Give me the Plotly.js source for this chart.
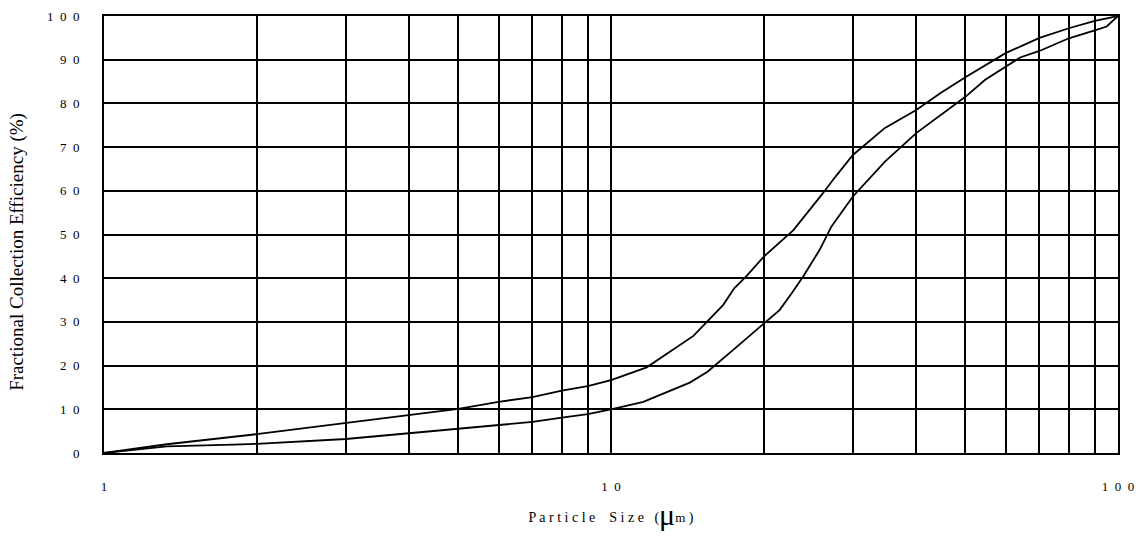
<!DOCTYPE html>
<html>
<head>
<meta charset="utf-8">
<script src="https://cdn.plot.ly/plotly-3.0.1.min.js"></script>
<style>html,body{margin:0;padding:0;background:#fff;}#chart{width:1140px;height:542px;}</style>
</head>
<body>
<div id="chart"></div>
<script>
// Upper (left) efficiency curve
const upperSize = [1, 1.33, 2, 3, 4, 5, 6, 7, 8, 9, 10, 11.76, 14.54, 15.44, 16.65, 17.5, 18.5, 20, 22.9, 26.0, 27.7, 30, 34.7, 40, 44.6, 50, 60, 70, 80, 90, 100];
const upperEff  = [0, 2.0, 4.3, 6.8, 8.6, 10.1, 11.7, 12.8, 14.3, 15.3, 16.7, 19.6, 26.8, 30.0, 33.9, 37.7, 40.5, 44.9, 51.0, 59.0, 63.2, 68.2, 74.4, 78.5, 82.3, 86.0, 91.5, 95.0, 97.2, 98.9, 100];
// Lower (right) efficiency curve
const lowerSize = [1, 1.33, 1.8, 2, 3, 4, 5, 6, 7, 8, 9, 10, 11.58, 14.3, 15.5, 17.7, 20, 21.5, 22.7, 23.9, 25.8, 27.2, 30, 34.7, 40, 44.6, 50, 54.7, 60, 64.1, 70, 80, 90, 95, 100];
const lowerEff  = [0, 1.5, 1.9, 2.1, 3.2, 4.5, 5.5, 6.3, 7.1, 8.1, 8.9, 10.0, 11.7, 16.1, 18.6, 24.3, 29.5, 32.7, 36.5, 40.3, 46.5, 51.8, 58.7, 66.7, 73.2, 77.3, 81.5, 85.4, 88.4, 90.5, 92.0, 94.9, 96.7, 97.6, 100];

const xMajorVals = [1, 10, 100];
const xMajorText = ["1", "1\u20020", "1\u20020\u20020"];
const xMinorVals = [2, 3, 4, 5, 6, 7, 8, 9, 20, 30, 40, 50, 60, 70, 80, 90];
const yTickVals = [0, 10, 20, 30, 40, 50, 60, 70, 80, 90, 100];
const yTickText = ["0", "1\u20020", "2\u20020", "3\u20020", "4\u20020", "5\u20020", "6\u20020", "7\u20020", "8\u20020", "9\u20020", "1\u20020\u20020"];

const lineStyle = {color: '#000', width: 1.8};
const traces = [
  {x: upperSize, y: upperEff, type: 'scatter', mode: 'lines', line: lineStyle, hoverinfo: 'x+y'},
  {x: lowerSize, y: lowerEff, type: 'scatter', mode: 'lines', line: lineStyle, hoverinfo: 'x+y'}
];

const font = 'Liberation Serif, Times New Roman, serif';
const layout = {
  width: 1140, height: 542,
  margin: {l: 104, r: 22, t: 16, b: 89},
  paper_bgcolor: '#fff', plot_bgcolor: '#fff',
  showlegend: false,
  font: {family: font, color: '#000', size: 13},
  xaxis: {
    type: 'log', range: [0, 2],
    tickmode: 'array', tickvals: xMajorVals, ticktext: xMajorText,
    showgrid: true, gridcolor: '#000', gridwidth: 2,
    minor: {tickmode: 'array', tickvals: xMinorVals, showgrid: true, gridcolor: '#000', gridwidth: 2, ticks: ''},
    showline: true, linecolor: '#000', linewidth: 2, mirror: true,
    zeroline: false, ticks: '', ticklabelstandoff: 20,
    tickfont: {family: font, size: 13, color: '#000'},
    title: {
      text: 'P a r t i c l e \u2002 S i z e \u2002(<sub><span style="font-size:30px">\u03bc</span></sub><span style="font-size:13px">m</span> )',
      font: {family: font, size: 14, color: '#000'}, standoff: 20
    }
  },
  yaxis: {
    range: [0, 100],
    tickvals: yTickVals, ticktext: yTickText,
    showgrid: true, gridcolor: '#000', gridwidth: 2,
    showline: true, linecolor: '#000', linewidth: 2, mirror: true,
    zeroline: false, ticks: '', ticklabelstandoff: 20,
    tickfont: {family: font, size: 13, color: '#000'}
  },
  annotations: [{
    text: 'Fractional Collection Efficiency (%)',
    xref: 'paper', yref: 'paper', x: -0.086, y: 0.46,
    xanchor: 'center', yanchor: 'middle', textangle: -90, showarrow: false,
    font: {family: font, size: 19, color: '#000'}
  }]
};

Plotly.newPlot('chart', traces, layout, {displayModeBar: false});
</script>
</body>
</html>
